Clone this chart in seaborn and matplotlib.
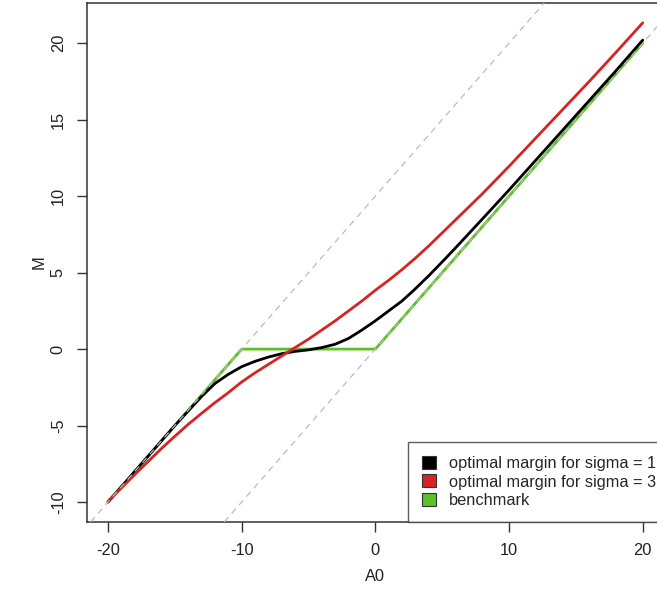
import seaborn as sns
import matplotlib.pyplot as plt
import matplotlib.patches as mpatches
import pandas as pd
import numpy as np

# curve values
a0_sigma1 = [-20, -18, -16, -15, -14, -13, -12, -11, -10, -9, -8, -7, -6, -5, -4, -3, -2, -1,
             0, 1, 2, 3, 4, 5, 6, 8, 10, 12, 14, 16, 18, 20]
m_sigma1 = [-10.0, -8.0, -6.0, -5.0, -4.05, -3.1, -2.25, -1.65, -1.15, -0.8, -0.52, -0.3, -0.15,
            -0.05, 0.1, 0.32, 0.7, 1.25, 1.85, 2.5, 3.15, 3.95, 4.8, 5.7, 6.62, 8.5, 10.4, 12.35,
            14.3, 16.25, 18.2, 20.2]

a0_sigma3 = [-20, -19, -18, -17, -16, -15, -14, -13, -12, -11, -10, -9, -8, -7, -6, -5, -4, -3,
             -2, -1, 0, 1, 2, 3, 4, 6, 8, 10, 12, 14, 16, 18, 20]
m_sigma3 = [-9.95, -9.08, -8.2, -7.35, -6.5, -5.7, -4.92, -4.2, -3.5, -2.85, -2.15, -1.55, -1.0,
            -0.45, 0.1, 0.65, 1.25, 1.85, 2.5, 3.15, 3.85, 4.5, 5.2, 5.95, 6.75, 8.45, 10.15,
            11.95, 13.8, 15.65, 17.5, 19.4, 21.33]

a0_bench = [-20, -10, 0, 20]
m_bench = [-10, 0, 0, 20]

# dashed 45 degree guides (intercepts)
guide_intercepts = [10, 0]

labels = ["optimal margin for sigma = 1", "optimal margin for sigma = 3", "benchmark"]
colors = ["#000000", "#D42424", "#5DC024"]

df = pd.concat([
    pd.DataFrame({"A0": a0_sigma1, "M": m_sigma1, "series": labels[0]}),
    pd.DataFrame({"A0": a0_sigma3, "M": m_sigma3, "series": labels[1]}),
    pd.DataFrame({"A0": a0_bench, "M": m_bench, "series": labels[2]}),
])

sns.set_style("white")
plt.rcParams['font.family'] = ['Liberation Sans', 'DejaVu Sans']
plt.rcParams['axes.unicode_minus'] = False

fig = plt.figure(figsize=(6.57, 6.05), dpi=100)
ax = fig.add_axes([0.1318, 0.1372, 0.879, 0.858])

# draw benchmark first so the optimal curves sit on top
for lab, col in [(labels[2], colors[2]), (labels[0], colors[0]), (labels[1], colors[1])]:
    sns.lineplot(data=df[df.series == lab], x="A0", y="M", color=col, lw=2,
                 sort=False, estimator=None, ax=ax, legend=False)

for b in guide_intercepts:
    ax.axline((0, b), slope=1, color="#BBBBBB", lw=0.9, ls=(0, (5, 4)), zorder=5)

# R style 4% padding
xs = df.A0.values
ys = df.M.values
xpad = 0.04 * (xs.max() - xs.min())
ypad = 0.04 * (ys.max() - ys.min())
ax.set_xlim(xs.min() - xpad, xs.max() + xpad)
ax.set_ylim(ys.min() - ypad - 0.05, ys.max() + ypad + 0.05)

ax.set_xticks([-20, -10, 0, 10, 20])
ax.set_yticks([-10, -5, 0, 5, 10, 15, 20])
ax.tick_params(axis="both", direction="out", length=7, width=1, color="#333333",
               labelsize=11.8, labelcolor="#222222", pad=8, left=True, bottom=True)
for t in ax.get_yticklabels():
    t.set_rotation(90)
    t.set_va("center")
ax.set_xlabel("A0", fontsize=11.8, labelpad=8, color="#222222")
ax.set_ylabel("M", fontsize=11.8, labelpad=3, color="#222222")

for s in ax.spines.values():
    s.set_color("#333333")
    s.set_linewidth(1.1)

handles = [mpatches.Patch(facecolor=c, edgecolor="#333333", lw=0.8) for c in colors]
leg = ax.legend(handles, labels, loc="lower right", bbox_to_anchor=(1.0104, 0),
                borderaxespad=0, frameon=True, fancybox=False, fontsize=11.8,
                handlelength=0.85, handleheight=0.85, handletextpad=0.8,
                labelspacing=0.2, borderpad=0.85)
leg.get_frame().set_edgecolor("#333333")
leg.get_frame().set_linewidth(1.0)

fig.savefig("out.png", dpi=100)
